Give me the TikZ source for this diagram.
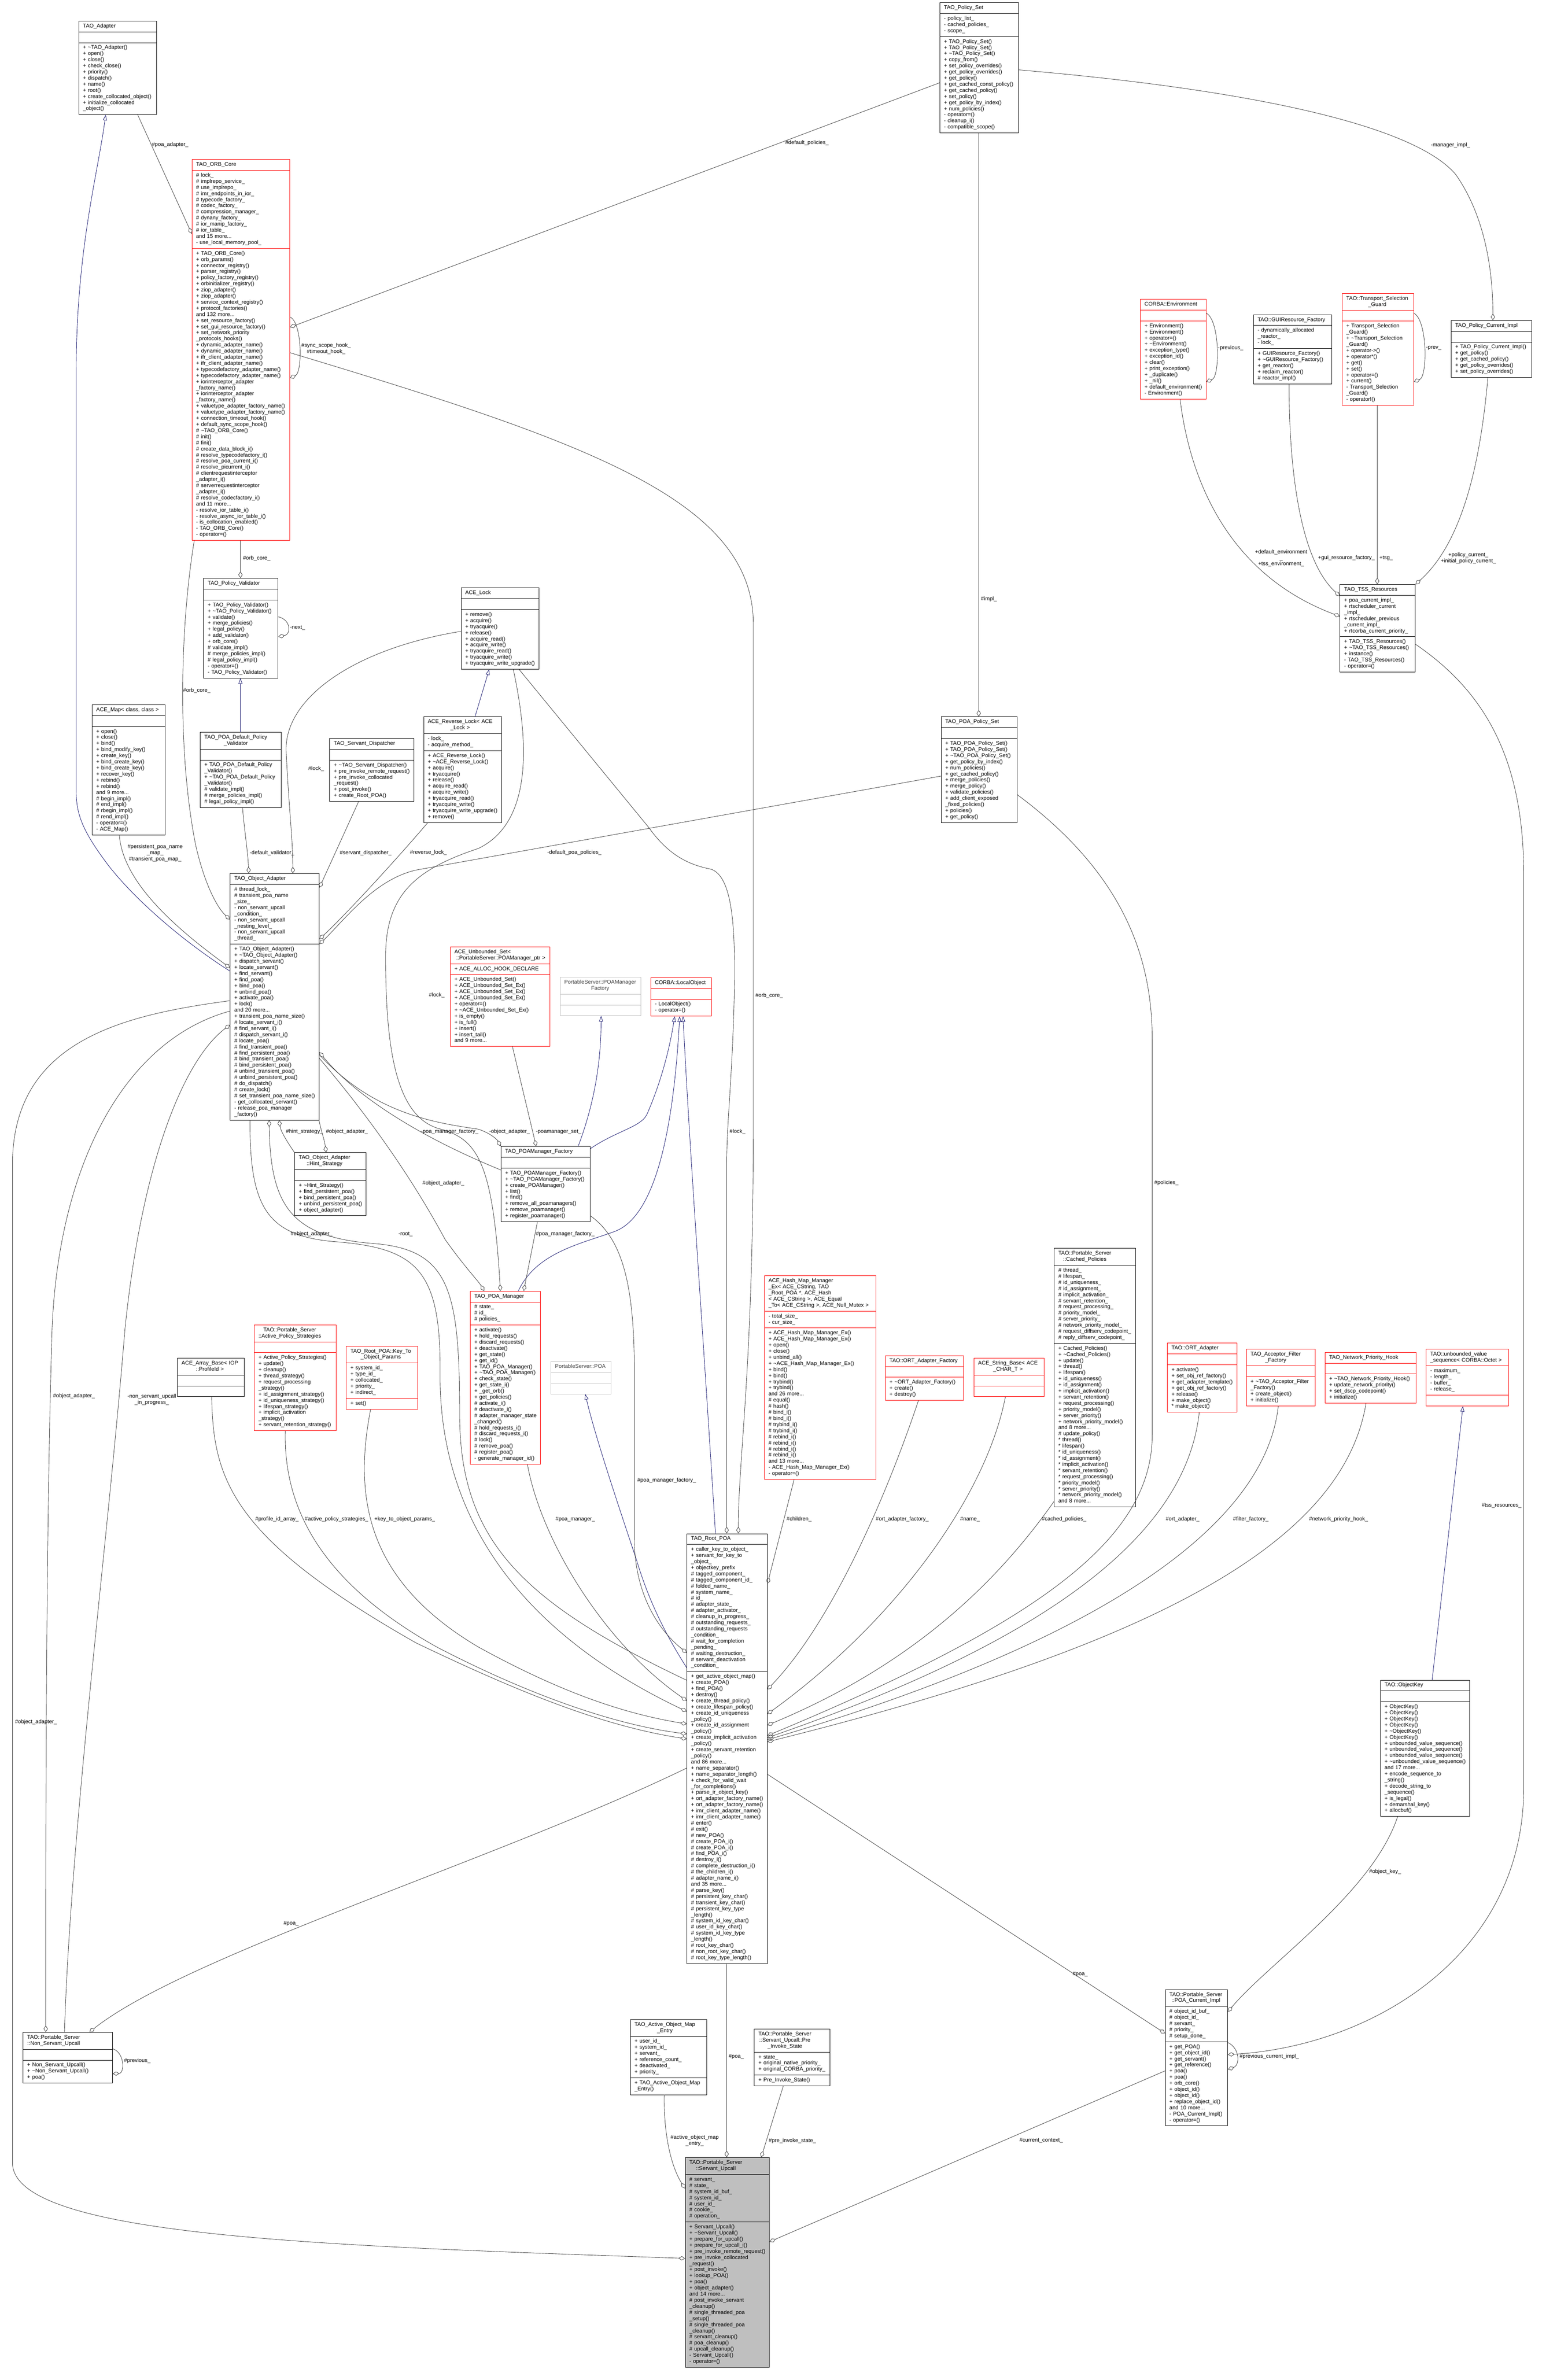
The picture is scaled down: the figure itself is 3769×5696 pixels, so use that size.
\documentclass[tikz,border=0pt]{standalone}
\usepackage{fontspec}
\setmainfont{Liberation Sans}
\usepackage{xcolor}
\usepackage{tikz}
\usetikzlibrary{shapes.multipart,arrows.meta,calc}
\definecolor{edgegray}{HTML}{404040}
\definecolor{inhblue}{HTML}{191970}
\definecolor{boxgray}{HTML}{BFBFBF}
\newcommand{\umlfont}{\fontsize{9.75}{11.025}\selectfont}
\newcommand{\dtor}{\textasciitilde}
\newcommand{\members}[1]{\begin{tabular}[t]{@{}l@{}}#1\end{tabular}}
\newcommand{\ctitle}[1]{\centering\begin{tabular}[t]{@{}c@{}}#1\end{tabular}}
\tikzstyle{umlbox} = [rectangle split, rectangle split parts=3, draw, line width=0.75pt, align=left, inner xsep=7.5pt, inner ysep=3.86pt, anchor=north west, font=\umlfont]
\tikzstyle{umlred} = [umlbox, draw=red]
\tikzstyle{umlgrey} = [umlbox, draw=boxgray, text=edgegray]
\tikzstyle{umlfocus} = [umlbox, fill=boxgray]
\tikzstyle{aggr} = [draw=edgegray, line width=0.75pt, -{Diamond[open, length=12pt, width=7.5pt]}]
\tikzstyle{inherit} = [draw=inhblue, line width=0.75pt, -{Triangle[open, length=10pt, width=7pt]}]
\tikzstyle{edgelabel} = [font=\umlfont, inner sep=0pt, align=center]
\newcommand{\umlclass}[8]{\node[#1, text width=#5*0.75pt-15pt] (#2) at (#3,#4) {#6\nodepart{two}#7\nodepart{three}#8};}

\begin{document}
\begin{tikzpicture}[x=0.75pt, y=-0.75pt]

\path[use as bounding box, fill=white] (0,0) rectangle (3769,5696);

\umlclass{umlbox}{adapter}{189}{50}{187}{\ctitle{TAO\_Adapter}}{\strut}{\members{+ \dtor TAO\_Adapter()\\+ open()\\+ close()\\+ check\_close()\\+ priority()\\+ dispatch()\\+ name()\\+ root()\\+ create\_collocated\_object()\\+ initialize\_collocated\\\_object()}}
\umlclass{umlred}{orbcore}{461}{383}{235}{\ctitle{TAO\_ORB\_Core}}{\members{\# lock\_\\\# implrepo\_service\_\\\# use\_implrepo\_\\\# imr\_endpoints\_in\_ior\_\\\# typecode\_factory\_\\\# codec\_factory\_\\\# compression\_manager\_\\\# dynany\_factory\_\\\# ior\_manip\_factory\_\\\# ior\_table\_\\and 15 more...\\- use\_local\_memory\_pool\_}}{\members{+ TAO\_ORB\_Core()\\+ orb\_params()\\+ connector\_registry()\\+ parser\_registry()\\+ policy\_factory\_registry()\\+ orbinitializer\_registry()\\+ ziop\_adapter()\\+ ziop\_adapter()\\+ service\_context\_registry()\\+ protocol\_factories()\\and 132 more...\\+ set\_resource\_factory()\\+ set\_gui\_resource\_factory()\\+ set\_network\_priority\\\_protocols\_hooks()\\+ dynamic\_adapter\_name()\\+ dynamic\_adapter\_name()\\+ ifr\_client\_adapter\_name()\\+ ifr\_client\_adapter\_name()\\+ typecodefactory\_adapter\_name()\\+ typecodefactory\_adapter\_name()\\+ iorinterceptor\_adapter\\\_factory\_name()\\+ iorinterceptor\_adapter\\\_factory\_name()\\+ valuetype\_adapter\_factory\_name()\\+ valuetype\_adapter\_factory\_name()\\+ connection\_timeout\_hook()\\+ default\_sync\_scope\_hook()\\\# \dtor TAO\_ORB\_Core()\\\# init()\\\# fini()\\\# create\_data\_block\_i()\\\# resolve\_typecodefactory\_i()\\\# resolve\_poa\_current\_i()\\\# resolve\_picurrent\_i()\\\# clientrequestinterceptor\\\_adapter\_i()\\\# serverrequestinterceptor\\\_adapter\_i()\\\# resolve\_codecfactory\_i()\\and 11 more...\\- resolve\_ior\_table\_i()\\- resolve\_async\_ior\_table\_i()\\- is\_collocation\_enabled()\\- TAO\_ORB\_Core()\\- operator=()}}
\umlclass{umlbox}{policyset}{2259}{6}{189}{\ctitle{TAO\_Policy\_Set}}{\members{- policy\_list\_\\- cached\_policies\_\\- scope\_}}{\members{+ TAO\_Policy\_Set()\\+ TAO\_Policy\_Set()\\+ \dtor TAO\_Policy\_Set()\\+ copy\_from()\\+ set\_policy\_overrides()\\+ get\_policy\_overrides()\\+ get\_policy()\\+ get\_cached\_const\_policy()\\+ get\_cached\_policy()\\+ set\_policy()\\+ get\_policy\_by\_index()\\+ num\_policies()\\- operator=()\\- cleanup\_i()\\- compatible\_scope()}}
\umlclass{umlred}{environment}{2741}{719}{158}{\ctitle{CORBA::Environment}}{\strut}{\members{+ Environment()\\+ Environment()\\+ operator=()\\+ \dtor Environment()\\+ exception\_type()\\+ exception\_id()\\+ clear()\\+ print\_exception()\\+ \_duplicate()\\+ \_nil()\\+ default\_environment()\\- Environment()}}
\umlclass{umlbox}{guifactory}{3013}{756}{188}{\ctitle{TAO::GUIResource\_Factory}}{\members{- dynamically\_allocated\\\_reactor\_\\- lock\_}}{\members{+ GUIResource\_Factory()\\+ \dtor GUIResource\_Factory()\\+ get\_reactor()\\+ reclaim\_reactor()\\\# reactor\_impl()}}
\umlclass{umlred}{tsguard}{3226}{705}{172}{\ctitle{TAO::Transport\_Selection\\\_Guard}}{\strut}{\members{+ Transport\_Selection\\\_Guard()\\+ \dtor Transport\_Selection\\\_Guard()\\+ operator->()\\+ operator*()\\+ get()\\+ set()\\+ operator=()\\+ current()\\- Transport\_Selection\\\_Guard()\\- operator!()}}
\umlclass{umlbox}{policycurrent}{3488}{770}{194}{\ctitle{TAO\_Policy\_Current\_Impl}}{\strut}{\members{+ TAO\_Policy\_Current\_Impl()\\+ get\_policy()\\+ get\_cached\_policy()\\+ get\_policy\_overrides()\\+ set\_policy\_overrides()}}
\umlclass{umlbox}{tssres}{3221}{1405}{181}{\ctitle{TAO\_TSS\_Resources}}{\members{+ poa\_current\_impl\_\\+ rtscheduler\_current\\\_impl\_\\+ rtscheduler\_previous\\\_current\_impl\_\\+ rtcorba\_current\_priority\_}}{\members{+ TAO\_TSS\_Resources()\\+ \dtor TAO\_TSS\_Resources()\\+ instance()\\- TAO\_TSS\_Resources()\\- operator=()}}
\umlclass{umlbox}{validator}{489}{1390}{179}{\ctitle{TAO\_Policy\_Validator}}{\strut}{\members{+ TAO\_Policy\_Validator()\\+ \dtor TAO\_Policy\_Validator()\\+ validate()\\+ merge\_policies()\\+ legal\_policy()\\+ add\_validator()\\+ orb\_core()\\\# validate\_impl()\\\# merge\_policies\_impl()\\\# legal\_policy\_impl()\\- operator=()\\- TAO\_Policy\_Validator()}}
\umlclass{umlbox}{poavalidator}{481}{1760}{195}{\ctitle{TAO\_POA\_Default\_Policy\\\_Validator}}{\strut}{\members{+ TAO\_POA\_Default\_Policy\\\_Validator()\\+ \dtor TAO\_POA\_Default\_Policy\\\_Validator()\\\# validate\_impl()\\\# merge\_policies\_impl()\\\# legal\_policy\_impl()}}
\umlclass{umlbox}{acemap}{221}{1694}{176}{\ctitle{ACE\_Map< class, class >}}{\strut}{\members{+ open()\\+ close()\\+ bind()\\+ bind\_modify\_key()\\+ create\_key()\\+ bind\_create\_key()\\+ bind\_create\_key()\\+ recover\_key()\\+ rebind()\\+ rebind()\\and 9 more...\\\# begin\_impl()\\\# end\_impl()\\\# rbegin\_impl()\\\# rend\_impl()\\- operator=()\\- ACE\_Map()}}
\umlclass{umlbox}{dispatcher}{792}{1775}{203}{\ctitle{TAO\_Servant\_Dispatcher}}{\strut}{\members{+ \dtor TAO\_Servant\_Dispatcher()\\+ pre\_invoke\_remote\_request()\\+ pre\_invoke\_collocated\\\_request()\\+ post\_invoke()\\+ create\_Root\_POA()}}
\umlclass{umlbox}{acelock}{1108}{1413}{187}{\ctitle{ACE\_Lock}}{\strut}{\members{+ remove()\\+ acquire()\\+ tryacquire()\\+ release()\\+ acquire\_read()\\+ acquire\_write()\\+ tryacquire\_read()\\+ tryacquire\_write()\\+ tryacquire\_write\_upgrade()}}
\umlclass{umlbox}{reverselock}{1018}{1723}{187}{\ctitle{ACE\_Reverse\_Lock< ACE\\\_Lock >}}{\members{- lock\_\\- acquire\_method\_}}{\members{+ ACE\_Reverse\_Lock()\\+ \dtor ACE\_Reverse\_Lock()\\+ acquire()\\+ tryacquire()\\+ release()\\+ acquire\_read()\\+ acquire\_write()\\+ tryacquire\_read()\\+ tryacquire\_write()\\+ tryacquire\_write\_upgrade()\\+ remove()}}
\umlclass{umlbox}{poapolicyset}{2262}{1723}{183}{\ctitle{TAO\_POA\_Policy\_Set}}{\strut}{\members{+ TAO\_POA\_Policy\_Set()\\+ TAO\_POA\_Policy\_Set()\\+ \dtor TAO\_POA\_Policy\_Set()\\+ get\_policy\_by\_index()\\+ num\_policies()\\+ get\_cached\_policy()\\+ merge\_policies()\\+ merge\_policy()\\+ validate\_policies()\\+ add\_client\_exposed\\\_fixed\_policies()\\+ policies()\\+ get\_policy()}}
\umlclass{umlbox}{objadapter}{553}{2100}{214}{\ctitle{TAO\_Object\_Adapter}}{\members{\# thread\_lock\_\\\# transient\_poa\_name\\\_size\_\\- non\_servant\_upcall\\\_condition\_\\- non\_servant\_upcall\\\_nesting\_level\_\\- non\_servant\_upcall\\\_thread\_}}{\members{+ TAO\_Object\_Adapter()\\+ \dtor TAO\_Object\_Adapter()\\+ dispatch\_servant()\\+ locate\_servant()\\+ find\_servant()\\+ find\_poa()\\+ bind\_poa()\\+ unbind\_poa()\\+ activate\_poa()\\+ lock()\\and 20 more...\\+ transient\_poa\_name\_size()\\\# locate\_servant\_i()\\\# find\_servant\_i()\\\# dispatch\_servant\_i()\\\# locate\_poa()\\\# find\_transient\_poa()\\\# find\_persistent\_poa()\\\# bind\_transient\_poa()\\\# bind\_persistent\_poa()\\\# unbind\_transient\_poa()\\\# unbind\_persistent\_poa()\\\# do\_dispatch()\\\# create\_lock()\\\# set\_transient\_poa\_name\_size()\\- get\_collocated\_servant()\\- release\_poa\_manager\\\_factory()}}
\umlclass{umlred}{unboundedset}{1082}{2276}{240}{\members{ACE\_Unbounded\_Set<\\~::PortableServer::POAManager\_ptr >}}{\members{+ ACE\_ALLOC\_HOOK\_DECLARE}}{\members{+ ACE\_Unbounded\_Set()\\+ ACE\_Unbounded\_Set\_Ex()\\+ ACE\_Unbounded\_Set\_Ex()\\+ ACE\_Unbounded\_Set\_Ex()\\+ operator=()\\+ \dtor ACE\_Unbounded\_Set\_Ex()\\+ is\_empty()\\+ is\_full()\\+ insert()\\+ insert\_tail()\\and 9 more...}}
\umlclass{umlgrey}{poamgrfactory}{1346}{2349}{194}{\ctitle{PortableServer::POAManager\\Factory}}{\strut}{\strut}
\umlclass{umlred}{localobject}{1564}{2350}{146}{\ctitle{CORBA::LocalObject}}{\strut}{\members{- LocalObject()\\- operator=()}}
\umlclass{umlbox}{hintstrategy}{708}{2771}{171}{\ctitle{TAO\_Object\_Adapter\\::Hint\_Strategy}}{\strut}{\members{+ \dtor Hint\_Strategy()\\+ find\_persistent\_poa()\\+ bind\_persistent\_poa()\\+ unbind\_persistent\_poa()\\+ object\_adapter()}}
\umlclass{umlbox}{taopoamgrfactory}{1204}{2756}{214}{\ctitle{TAO\_POAManager\_Factory}}{\strut}{\members{+ TAO\_POAManager\_Factory()\\+ \dtor TAO\_POAManager\_Factory()\\+ create\_POAManager()\\+ list()\\+ find()\\+ remove\_all\_poamanagers()\\+ remove\_poamanager()\\+ register\_poamanager()}}
\umlclass{umlred}{poamanager}{1130}{3104}{169}{\ctitle{TAO\_POA\_Manager}}{\members{\# state\_\\\# id\_\\\# policies\_}}{\members{+ activate()\\+ hold\_requests()\\+ discard\_requests()\\+ deactivate()\\+ get\_state()\\+ get\_id()\\+ TAO\_POA\_Manager()\\+ \dtor TAO\_POA\_Manager()\\+ check\_state()\\+ get\_state\_i()\\+ \_get\_orb()\\+ get\_policies()\\\# activate\_i()\\\# deactivate\_i()\\\# adapter\_manager\_state\\\_changed()\\\# hold\_requests\_i()\\\# discard\_requests\_i()\\\# lock()\\\# remove\_poa()\\\# register\_poa()\\- generate\_manager\_id()}}
\umlclass{umlbox}{arraybase}{426}{3265}{161}{\ctitle{ACE\_Array\_Base< IOP\\::ProfileId >}}{\strut}{\strut}
\umlclass{umlred}{policystrategies}{611}{3185}{197}{\ctitle{TAO::Portable\_Server\\::Active\_Policy\_Strategies}}{\strut}{\members{+ Active\_Policy\_Strategies()\\+ update()\\+ cleanup()\\+ thread\_strategy()\\+ request\_processing\\\_strategy()\\+ id\_assignment\_strategy()\\+ id\_uniqueness\_strategy()\\+ lifespan\_strategy()\\+ implicit\_activation\\\_strategy()\\+ servant\_retention\_strategy()}}
\umlclass{umlred}{keyparams}{832}{3236}{172}{\ctitle{TAO\_Root\_POA::Key\_To\\\_Object\_Params}}{\members{+ system\_id\_\\+ type\_id\_\\+ collocated\_\\+ priority\_\\+ indirect\_}}{\members{+ set()}}
\umlclass{umlgrey}{poa}{1324}{3273}{144}{\ctitle{PortableServer::POA}}{\strut}{\strut}
\umlclass{umlred}{hashmap}{1837}{3067}{268}{\members{ACE\_Hash\_Map\_Manager\\\_Ex< ACE\_CString, TAO\\\_Root\_POA *, ACE\_Hash\\< ACE\_CString >, ACE\_Equal\\\_To< ACE\_CString >, ACE\_Null\_Mutex >}}{\members{- total\_size\_\\- cur\_size\_}}{\members{+ ACE\_Hash\_Map\_Manager\_Ex()\\+ ACE\_Hash\_Map\_Manager\_Ex()\\+ open()\\+ close()\\+ unbind\_all()\\+ \dtor ACE\_Hash\_Map\_Manager\_Ex()\\+ bind()\\+ bind()\\+ trybind()\\+ trybind()\\and 26 more...\\\# equal()\\\# hash()\\\# bind\_i()\\\# bind\_i()\\\# trybind\_i()\\\# trybind\_i()\\\# rebind\_i()\\\# rebind\_i()\\\# rebind\_i()\\\# rebind\_i()\\and 13 more...\\- ACE\_Hash\_Map\_Manager\_Ex()\\- operator=()}}
\umlclass{umlred}{ortfactory}{2128}{3259}{188}{\ctitle{TAO::ORT\_Adapter\_Factory}}{\strut}{\members{+ \dtor ORT\_Adapter\_Factory()\\+ create()\\+ destroy()}}
\umlclass{umlred}{stringbase}{2341}{3265}{169}{\ctitle{ACE\_String\_Base< ACE\\\_CHAR\_T >}}{\strut}{\strut}
\umlclass{umlbox}{cachedpolicies}{2534}{3001}{196}{\ctitle{TAO::Portable\_Server\\::Cached\_Policies}}{\members{\# thread\_\\\# lifespan\_\\\# id\_uniqueness\_\\\# id\_assignment\_\\\# implicit\_activation\_\\\# servant\_retention\_\\\# request\_processing\_\\\# priority\_model\_\\\# server\_priority\_\\\# network\_priority\_model\_\\\# request\_diffserv\_codepoint\_\\\# reply\_diffserv\_codepoint\_}}{\members{+ Cached\_Policies()\\+ \dtor Cached\_Policies()\\+ update()\\+ thread()\\+ lifespan()\\+ id\_uniqueness()\\+ id\_assignment()\\+ implicit\_activation()\\+ servant\_retention()\\+ request\_processing()\\+ priority\_model()\\+ server\_priority()\\+ network\_priority\_model()\\and 8 more...\\\# update\_policy()\\{}* thread()\\{}* lifespan()\\{}* id\_uniqueness()\\{}* id\_assignment()\\{}* implicit\_activation()\\{}* servant\_retention()\\{}* request\_processing()\\{}* priority\_model()\\{}* server\_priority()\\{}* network\_priority\_model()\\and 8 more...}}
\umlclass{umlred}{ortadapter}{2806}{3229}{167}{\ctitle{TAO::ORT\_Adapter}}{\strut}{\members{+ activate()\\+ set\_obj\_ref\_factory()\\+ get\_adapter\_template()\\+ get\_obj\_ref\_factory()\\+ release()\\+ make\_object()\\{}* make\_object()}}
\umlclass{umlred}{filterfactory}{2996}{3243}{165}{\ctitle{TAO\_Acceptor\_Filter\\\_Factory}}{\strut}{\members{+ \dtor TAO\_Acceptor\_Filter\\\_Factory()\\+ create\_object()\\+ initialize()}}
\umlclass{umlred}{priorityhook}{3185}{3251}{219}{\ctitle{TAO\_Network\_Priority\_Hook}}{\strut}{\members{+ \dtor TAO\_Network\_Priority\_Hook()\\+ update\_network\_priority()\\+ set\_dscp\_codepoint()\\+ initialize()}}
\umlclass{umlred}{octetseq}{3428}{3243}{198}{\members{TAO::unbounded\_value\\\_sequence< CORBA::Octet >}}{\members{- maximum\_\\- length\_\\- buffer\_\\- release\_}}{\strut}
\umlclass{umlbox}{rootpoa}{1651}{3687}{193}{\ctitle{TAO\_Root\_POA}}{\members{+ caller\_key\_to\_object\_\\+ servant\_for\_key\_to\\\_object\_\\+ objectkey\_prefix\\\# tagged\_component\_\\\# tagged\_component\_id\_\\\# folded\_name\_\\\# system\_name\_\\\# id\_\\\# adapter\_state\_\\\# adapter\_activator\_\\\# cleanup\_in\_progress\_\\\# outstanding\_requests\_\\\# outstanding\_requests\\\_condition\_\\\# wait\_for\_completion\\\_pending\_\\\# waiting\_destruction\_\\\# servant\_deactivation\\\_condition\_}}{\members{+ get\_active\_object\_map()\\+ create\_POA()\\+ find\_POA()\\+ destroy()\\+ create\_thread\_policy()\\+ create\_lifespan\_policy()\\+ create\_id\_uniqueness\\\_policy()\\+ create\_id\_assignment\\\_policy()\\+ create\_implicit\_activation\\\_policy()\\+ create\_servant\_retention\\\_policy()\\and 86 more...\\+ name\_separator()\\+ name\_separator\_length()\\+ check\_for\_valid\_wait\\\_for\_completions()\\+ parse\_ir\_object\_key()\\+ ort\_adapter\_factory\_name()\\+ ort\_adapter\_factory\_name()\\+ imr\_client\_adapter\_name()\\+ imr\_client\_adapter\_name()\\\# enter()\\\# exit()\\\# new\_POA()\\\# create\_POA\_i()\\\# create\_POA\_i()\\\# find\_POA\_i()\\\# destroy\_i()\\\# complete\_destruction\_i()\\\# the\_children\_i()\\\# adapter\_name\_i()\\and 35 more...\\\# parse\_key()\\\# persistent\_key\_char()\\\# transient\_key\_char()\\\# persistent\_key\_type\\\_length()\\\# system\_id\_key\_char()\\\# user\_id\_key\_char()\\\# system\_id\_key\_type\\\_length()\\\# root\_key\_char()\\\# non\_root\_key\_char()\\\# root\_key\_type\_length()}}
\umlclass{umlbox}{objectkey}{3318}{4039}{215}{\ctitle{TAO::ObjectKey}}{\strut}{\members{+ ObjectKey()\\+ ObjectKey()\\+ ObjectKey()\\+ ObjectKey()\\+ \dtor ObjectKey()\\+ ObjectKey()\\+ unbounded\_value\_sequence()\\+ unbounded\_value\_sequence()\\+ unbounded\_value\_sequence()\\+ \dtor unbounded\_value\_sequence()\\and 17 more...\\+ encode\_sequence\_to\\\_string()\\+ decode\_string\_to\\\_sequence()\\+ is\_legal()\\+ demarshal\_key()\\+ allocbuf()}}
\umlclass{umlbox}{nonservantupcall}{55}{4886}{215}{\ctitle{TAO::Portable\_Server\\::Non\_Servant\_Upcall}}{\strut}{\members{+ Non\_Servant\_Upcall()\\+ \dtor Non\_Servant\_Upcall()\\+ poa()}}
\umlclass{umlbox}{aomentry}{1515}{4855}{183}{\ctitle{TAO\_Active\_Object\_Map\\\_Entry}}{\members{+ user\_id\_\\+ system\_id\_\\+ servant\_\\+ reference\_count\_\\+ deactivated\_\\+ priority\_}}{\members{+ TAO\_Active\_Object\_Map\\\_Entry()}}
\umlclass{umlbox}{preinvoke}{1813}{4878}{182}{\ctitle{TAO::Portable\_Server\\::Servant\_Upcall::Pre\\\_Invoke\_State}}{\members{+ state\_\\+ original\_native\_priority\_\\+ original\_CORBA\_priority\_}}{\members{+ Pre\_Invoke\_State()}}
\umlclass{umlbox}{poacurrent}{2801}{4783}{150}{\ctitle{TAO::Portable\_Server\\::POA\_Current\_Impl}}{\members{\# object\_id\_buf\_\\\# object\_id\_\\\# servant\_\\\# priority\_\\\# setup\_done\_}}{\members{+ get\_POA()\\+ get\_object\_id()\\+ get\_servant()\\+ get\_reference()\\+ poa()\\+ poa()\\+ orb\_core()\\+ object\_id()\\+ object\_id()\\+ replace\_object\_id()\\and 10 more...\\- POA\_Current\_Impl()\\- operator=()}}
\umlclass{umlfocus}{servantupcall}{1647}{5187}{202}{\ctitle{TAO::Portable\_Server\\::Servant\_Upcall}}{\members{\# servant\_\\\# state\_\\\# system\_id\_buf\_\\\# system\_id\_\\\# user\_id\_\\\# cookie\_\\\# operation\_}}{\members{+ Servant\_Upcall()\\+ \dtor Servant\_Upcall()\\+ prepare\_for\_upcall()\\+ prepare\_for\_upcall\_i()\\+ pre\_invoke\_remote\_request()\\+ pre\_invoke\_collocated\\\_request()\\+ post\_invoke()\\+ lookup\_POA()\\+ poa()\\+ object\_adapter()\\and 14 more...\\\# post\_invoke\_servant\\\_cleanup()\\\# single\_threaded\_poa\\\_setup()\\\# single\_threaded\_poa\\\_cleanup()\\\# servant\_cleanup()\\\# poa\_cleanup()\\\# upcall\_cleanup()\\- Servant\_Upcall()\\- operator=()}}

\path [inherit] ($(objadapter.north west)+(0,235)$) .. controls (450,2270) and (330,2170) .. (260,2080) .. controls (200,2000) and (183,1960) .. (183,1900) -- (183,900) .. controls (183,600) and (235,420) .. ($(adapter.south west)+(65,0)$);
\path [inherit] ($(poavalidator.north west)+(97,0)$) -- ($(validator.south west)+(89,0)$);
\path [inherit] ($(reverselock.north west)+(124,0)$) -- ($(acelock.south west)+(68,0)$);
\path [inherit] ($(taopoamgrfactory.north west)+(186,0)$) .. controls (1430,2650) and (1445,2550) .. ($(poamgrfactory.south west)+(99,0)$);
\path [inherit] ($(taopoamgrfactory.north east)+(0,6)$) .. controls (1480,2720) and (1540,2710) .. (1555,2680) .. controls (1590,2600) and (1610,2520) .. ($(localobject.south west)+(58,0)$);
\path [inherit] ($(poamanager.north west)+(116,0)$) .. controls (1290,3010) and (1400,2990) .. (1480,2960) .. controls (1580,2920) and (1620,2700) .. ($(localobject.south west)+(70,0)$);
\path [inherit] ($(rootpoa.north west)+(69,0)$) .. controls (1690,3200) and (1660,2800) .. ($(localobject.south west)+(78,0)$);
\path [inherit] ($(rootpoa.north west)+(0,323)$) .. controls (1600,3930) and (1560,3850) .. (1530,3750) .. controls (1480,3600) and (1430,3450) .. ($(poa.south west)+(83,0)$);
\path [inherit] ($(objectkey.north west)+(125,0)$) -- ($(octetseq.south west)+(89,0)$);

\path [aggr] ($(adapter.south west)+(142,0)$) -- ($(orbcore.north west)+(0,179)$);
\node [edgelabel] (l-poaadapter) at (409,348) {\#poa\_adapter\_};
\path [aggr] ($(policyset.north west)+(0,193)$) -- ($(orbcore.north east)+(0,404)$);
\node [edgelabel] (l-defpolicies) at (1940,343) {\#default\_policies\_};
\path [aggr] ($(orbcore.north east)+(0,379)$) .. controls (727,775) and (727,895) .. ($(orbcore.north east)+(0,526)$);
\node [edgelabel] (l-hooks) at (784,838) {\#sync\_scope\_hook\_\\\#timeout\_hook\_};
\path [aggr] ($(orbcore.south west)+(117,0)$) -- ($(validator.north west)+(89,0)$);
\node [edgelabel, anchor=west] (l-orbcore1) at (584,1342) {\#orb\_core\_};
\path [aggr] ($(validator.north east)+(0,93)$) .. controls (700,1490) and (700,1525) .. ($(validator.north east)+(0,141)$);
\node [edgelabel, anchor=west] (l-next) at (697,1509) {-next\_};
\path [aggr] ($(orbcore.south west)+(6,0)$) .. controls (434,1500) and (425,1800) .. (470,2030) .. controls (490,2120) and (520,2180) .. ($(objadapter.north west)+(0,111)$);
\node [edgelabel, anchor=west] (l-orbcore2) at (440,1660) {\#orb\_core\_};
\path [aggr] ($(acemap.south west)+(66,0)$) .. controls (295,2120) and (420,2230) .. ($(objadapter.north west)+(0,227)$);
\node [edgelabel] (l-poamaps) at (373,2051) {\#persistent\_poa\_name\\\_map\_\\\#transient\_poa\_map\_};
\path [aggr] ($(poavalidator.south west)+(102,0)$) .. controls (588,2000) and (596,2050) .. ($(objadapter.north west)+(45,0)$);
\node [edgelabel] (l-defvalidator) at (654,2051) {-default\_validator\_};
\path [aggr] ($(acelock.north west)+(0,105)$) .. controls (850,1560) and (680,1680) .. (688,1810) .. controls (695,1950) and (704,2020) .. ($(objadapter.north west)+(151,0)$);
\node [edgelabel] (l-lock1) at (760,1848) {\#lock\_};
\path [aggr] ($(dispatcher.south west)+(70,0)$) -- ($(objadapter.north east)+(0,34)$);
\node [edgelabel] (l-dispatcher) at (879,2051) {\#servant\_dispatcher\_};
\path [aggr] ($(reverselock.south west)+(10,0)$) .. controls (950,2070) and (830,2200) .. ($(objadapter.north east)+(0,158)$);
\node [edgelabel] (l-reverselock) at (1030,2050) {\#reverse\_lock\_};
\path [aggr] ($(poapolicyset.north west)+(0,143)$) -- (1000,2092) .. controls (900,2115) and (830,2210) .. ($(objadapter.north east)+(0,170)$);
\node [edgelabel] (l-defpoapolicies) at (1381,2050) {-default\_poa\_policies\_};
\path [aggr] ($(acelock.south west)+(126,0)$) .. controls (1275,1800) and (1275,1980) .. (1150,2040) .. controls (1000,2090) and (927,2150) .. (927,2300) .. controls (927,2550) and (960,2690) .. (1060,2715) .. controls (1150,2740) and (1185,2800) .. ($(poamanager.north west)+(73,0)$);
\node [edgelabel] (l-lock2) at (1050,2393) {\#lock\_};
\path [aggr] ($(acelock.south west)+(140,0)$) -- (1560,1990) .. controls (1610,2060) and (1660,2080) .. (1710,2090) .. controls (1765,2110) and (1768,2250) .. (1765,2400) .. controls (1760,2600) and (1747,2700) .. (1747,2800) -- ($(rootpoa.north west)+(96,0)$);
\node [edgelabel, anchor=west] (l-lock3) at (1754,2721) {\#lock\_};
\path [aggr] ($(orbcore.north east)+(0,465)$) .. controls (1400,1060) and (1811,1200) .. (1811,1500) -- (1811,2700) .. controls (1811,3300) and (1775,3500) .. ($(rootpoa.north west)+(124,0)$);
\node [edgelabel, anchor=west] (l-orbcore3) at (1816,2394) {\#orb\_core\_};
\path [aggr] ($(policyset.north east)+(0,162)$) .. controls (3000,215) and (3400,300) .. (3500,420) .. controls (3570,520) and (3589,650) .. ($(policycurrent.north west)+(101,0)$);
\node [edgelabel] (l-managerimpl) at (3487,349) {-manager\_impl\_};
\path [aggr] ($(policyset.south west)+(94,0)$) -- ($(poapolicyset.north west)+(91,0)$);
\node [edgelabel, anchor=west] (l-impl) at (2358,1440) {\#impl\_};
\path [aggr] ($(environment.north east)+(0,34)$) .. controls (2933,770) and (2933,905) .. ($(environment.north east)+(0,199)$);
\node [edgelabel, anchor=west] (l-previous1) at (2928,837) {-previous\_};
\path [aggr] ($(tsguard.north east)+(0,48)$) .. controls (3432,770) and (3432,905) .. ($(tsguard.north east)+(0,213)$);
\node [edgelabel, anchor=west] (l-prev) at (3428,837) {-prev\_};
\path [aggr] ($(environment.south west)+(96,0)$) .. controls (2860,1150) and (2950,1380) .. ($(tssres.north west)+(0,77)$);
\node [edgelabel] (l-environment) at (3080,1342) {+default\_environment\\\_\\+tss\_environment\_};
\path [aggr] ($(guifactory.south west)+(86,0)$) .. controls (3099,1150) and (3130,1350) .. ($(tssres.north west)+(0,28)$);
\node [edgelabel] (l-guifactory) at (3237,1342) {+gui\_resource\_factory\_};
\path [aggr] ($(tsguard.south west)+(85,0)$) -- ($(tssres.north west)+(90,0)$);
\node [edgelabel, anchor=west] (l-tsg) at (3316,1342) {+tsg\_};
\path [aggr] ($(policycurrent.south west)+(89,0)$) .. controls (3560,1100) and (3520,1300) .. (tssres.north east);
\node [edgelabel] (l-policycurrent) at (3530,1342) {+policy\_current\_\\+initial\_policy\_current\_};
\path [aggr] ($(tssres.north east)+(0,144)$) .. controls (3550,1650) and (3663,1800) .. (3663,2100) -- (3663,4300) .. controls (3663,4700) and (3300,4920) .. ($(poacurrent.north east)+(0,157)$);
\node [edgelabel, anchor=east] (l-tssresources) at (3658,3620) {\#tss\_resources\_};

\path [aggr] (hintstrategy.north west) .. controls (690,2745) and (675,2720) .. ($(objadapter.south west)+(118,0)$);
\node [edgelabel] (l-hintstrategy) at (732,2721) {\#hint\_strategy\_};
\path [aggr] ($(objadapter.south east)+(-1,0)$) .. controls (772,2720) and (780,2740) .. ($(hintstrategy.north west)+(76,0)$);
\node [edgelabel] (l-objadapter1) at (834,2721) {\#object\_adapter\_};
\path [aggr] ($(taopoamgrfactory.north west)+(0,57)$) .. controls (1000,2730) and (850,2630) .. ($(objadapter.north east)+(0,430)$);
\node [edgelabel] (l-poamgrfactory1) at (1081,2721) {-poa\_manager\_factory\_};
\path [aggr] ($(objadapter.north east)+(0,436)$) .. controls (900,2680) and (1050,2700) .. (1150,2715) .. controls (1180,2725) and (1195,2740) .. (taopoamgrfactory.north west);
\node [edgelabel] (l-objadapter2) at (1225,2721) {-object\_adapter\_};
\path [aggr] ($(unboundedset.south west)+(150,0)$) -- ($(taopoamgrfactory.north west)+(85,0)$);
\node [edgelabel] (l-poamanagerset) at (1343,2721) {-poamanager\_set\_};
\path [aggr] ($(objadapter.north east)+(0,445)$) .. controls (900,2700) and (1000,2850) .. (1070,2980) .. controls (1120,3050) and (1150,3080) .. ($(poamanager.north west)+(34,0)$);
\node [edgelabel] (l-objadapter3) at (1066,2845) {\#object\_adapter\_};
\path [aggr] ($(taopoamgrfactory.south west)+(88,0)$) -- ($(poamanager.north west)+(129,0)$);
\node [edgelabel] (l-poamgrfactory2) at (1359,2967) {\#poa\_manager\_factory\_};
\path [aggr] ($(objadapter.south west)+(48,0)$) .. controls (600,2900) and (640,2970) .. (800,2985) .. controls (1000,3000) and (1060,3050) .. (1058,3300) .. controls (1055,3600) and (1200,3900) .. ($(rootpoa.north west)+(0,428)$);
\node [edgelabel] (l-objadapter4) at (749,2967) {\#object\_adapter\_};
\path [aggr] ($(rootpoa.north west)+(0,353)$) .. controls (1250,3850) and (1105,3700) .. (1105,3400) .. controls (1105,3100) and (1080,3005) .. (900,2990) .. controls (700,2975) and (650,2900) .. ($(objadapter.south west)+(94,0)$);
\node [edgelabel] (l-root) at (975,2967) {-root\_};
\path [aggr] ($(taopoamgrfactory.north east)+(0,167)$) .. controls (1500,2980) and (1525,3100) .. (1525,3300) -- (1525,3700) .. controls (1525,3800) and (1560,3900) .. ($(rootpoa.north west)+(0,287)$);
\node [edgelabel, anchor=west] (l-poamgrfactory3) at (1532,3560) {\#poa\_manager\_factory\_};
\path [aggr] ($(poamanager.south west)+(138,0)$) .. controls (1300,3700) and (1450,3950) .. ($(rootpoa.north west)+(0,402)$);
\node [edgelabel] (l-poamanager) at (1383,3653) {\#poa\_manager\_};
\path [aggr] ($(keyparams.south west)+(59,0)$) .. controls (850,3600) and (880,3800) .. (1150,3960) .. controls (1350,4070) and (1500,4120) .. ($(rootpoa.north west)+(0,458)$);
\node [edgelabel] (l-keyparams) at (973,3653) {+key\_to\_object\_params\_};
\path [aggr] ($(policystrategies.south west)+(75,0)$) .. controls (680,3650) and (800,3820) .. (1050,3960) .. controls (1300,4090) and (1500,4150) .. ($(rootpoa.north west)+(0,482)$);
\node [edgelabel] (l-policystrategies) at (809,3653) {\#active\_policy\_strategies\_};
\path [aggr] ($(arraybase.south west)+(83,0)$) .. controls (512,3560) and (560,3700) .. (1000,3950) .. controls (1250,4070) and (1450,4150) .. ($(rootpoa.north west)+(0,494)$);
\node [edgelabel] (l-profileids) at (666,3653) {\#profile\_id\_array\_};

\path [aggr] ($(hashmap.south west)+(72,0)$) -- ($(rootpoa.north east)+(0,121)$);
\node [edgelabel] (l-children) at (1921,3653) {\#children\_};
\path [aggr] ($(ortfactory.south west)+(80,0)$) .. controls (2130,3600) and (2000,3900) .. ($(rootpoa.north east)+(0,375)$);
\node [edgelabel] (l-ortfactory) at (2169,3653) {\#ort\_adapter\_factory\_};
\path [aggr] ($(stringbase.south west)+(76,0)$) .. controls (2370,3600) and (2150,3900) .. ($(rootpoa.north east)+(0,434)$);
\node [edgelabel] (l-name) at (2332,3653) {\#name\_};
\path [aggr] ($(cachedpolicies.south west)+(0,-14)$) .. controls (2400,3800) and (2200,4000) .. ($(rootpoa.north east)+(0,461)$);
\node [edgelabel] (l-cachedpolicies) at (2558,3653) {\#cached\_policies\_};
\path [aggr] ($(poapolicyset.north east)+(0,188)$) .. controls (2700,2100) and (2770,2300) .. (2770,2500) -- (2770,3450) .. controls (2770,3700) and (2500,3900) .. ($(rootpoa.north east)+(0,486)$);
\node [edgelabel, anchor=west] (l-policies) at (2775,2844) {\#policies\_};
\path [aggr] ($(ortadapter.south west)+(77,0)$) .. controls (2850,3700) and (2500,3950) .. ($(rootpoa.north east)+(0,491)$);
\node [edgelabel] (l-ortadapter) at (2843,3653) {\#ort\_adapter\_};
\path [aggr] ($(filterfactory.south west)+(77,0)$) .. controls (3050,3600) and (2800,3900) .. ($(rootpoa.north east)+(0,496)$);
\node [edgelabel] (l-filterfactory) at (3007,3653) {\#filter\_factory\_};
\path [aggr] ($(priorityhook.south west)+(99,0)$) .. controls (3230,3700) and (2800,3950) .. ($(rootpoa.north east)+(0,501)$);
\node [edgelabel] (l-priorityhook) at (3218,3653) {\#network\_priority\_hook\_};

\path [aggr] ($(objectkey.south west)+(42,0)$) .. controls (3300,4550) and (3050,4720) .. ($(poacurrent.north east)+(0,54)$);
\node [edgelabel] (l-objectkey) at (3330,4500) {\#object\_key\_};
\path [aggr] ($(rootpoa.north east)+(0,579)$) -- ($(poacurrent.north west)+(0,106)$);
\node [edgelabel] (l-poa1) at (2597,4747) {\#poa\_};
\path [aggr] ($(poacurrent.north east)+(0,128)$) .. controls (2981,4925) and (2981,4965) .. ($(poacurrent.north east)+(0,193)$);
\node [edgelabel, anchor=west] (l-prevcurrent) at (2980,4945) {\#previous\_current\_impl\_};
\path [aggr] ($(rootpoa.south west)+(96,0)$) -- ($(servantupcall.north west)+(100,0)$);
\node [edgelabel] (l-poa2) at (1770,4945) {\#poa\_};
\path [aggr] ($(aomentry.south west)+(82,0)$) .. controls (1595,5150) and (1620,5220) .. ($(servantupcall.north west)+(0,75)$);
\node [edgelabel] (l-aomentry) at (1670,5147) {\#active\_object\_map\\\_entry\_};
\path [aggr] ($(preinvoke.south west)+(70,0)$) -- ($(servantupcall.north east)+(-20,0)$);
\node [edgelabel] (l-preinvoke) at (1905,5147) {\#pre\_invoke\_state\_};
\path [aggr] ($(poacurrent.north west)+(0,196)$) -- ($(servantupcall.north east)+(0,203)$);
\node [edgelabel] (l-currentcontext) at (2503,5147) {\#current\_context\_};
\path [aggr] ($(objadapter.north west)+(0,306)$) .. controls (300,2440) and (30,2500) .. (30,2800) -- (30,5200) .. controls (30,5380) and (800,5400) .. ($(servantupcall.north west)+(0,243)$);
\node [edgelabel, anchor=west] (l-objadapter5) at (36,4140) {\#object\_adapter\_};
\path [aggr] ($(objadapter.north west)+(0,331)$) .. controls (300,2500) and (140,2800) .. (125,3200) .. controls (110,3700) and (110,4400) .. ($(nonservantupcall.north west)+(55,0)$);
\node [edgelabel] (l-objadapter6) at (178,3357) {\#object\_adapter\_};
\path [aggr] ($(nonservantupcall.north west)+(100,0)$) .. controls (170,4400) and (260,3700) .. (300,3200) .. controls (340,2800) and (440,2550) .. ($(objadapter.north west)+(0,364)$);
\node [edgelabel] (l-inprogress) at (365,3365) {-non\_servant\_upcall\\\_in\_progress\_};
\path [aggr] ($(nonservantupcall.north east)+(0,40)$) .. controls (300,4935) and (300,4985) .. ($(nonservantupcall.north east)+(0,100)$);
\node [edgelabel, anchor=west] (l-previous2) at (298,4955) {\#previous\_};
\path [aggr] ($(rootpoa.north west)+(0,564)$) .. controls (1200,4470) and (450,4700) .. ($(nonservantupcall.north west)+(160,0)$);
\node [edgelabel] (l-poa3) at (700,4625) {\#poa\_};

\end{tikzpicture}
\end{document}
